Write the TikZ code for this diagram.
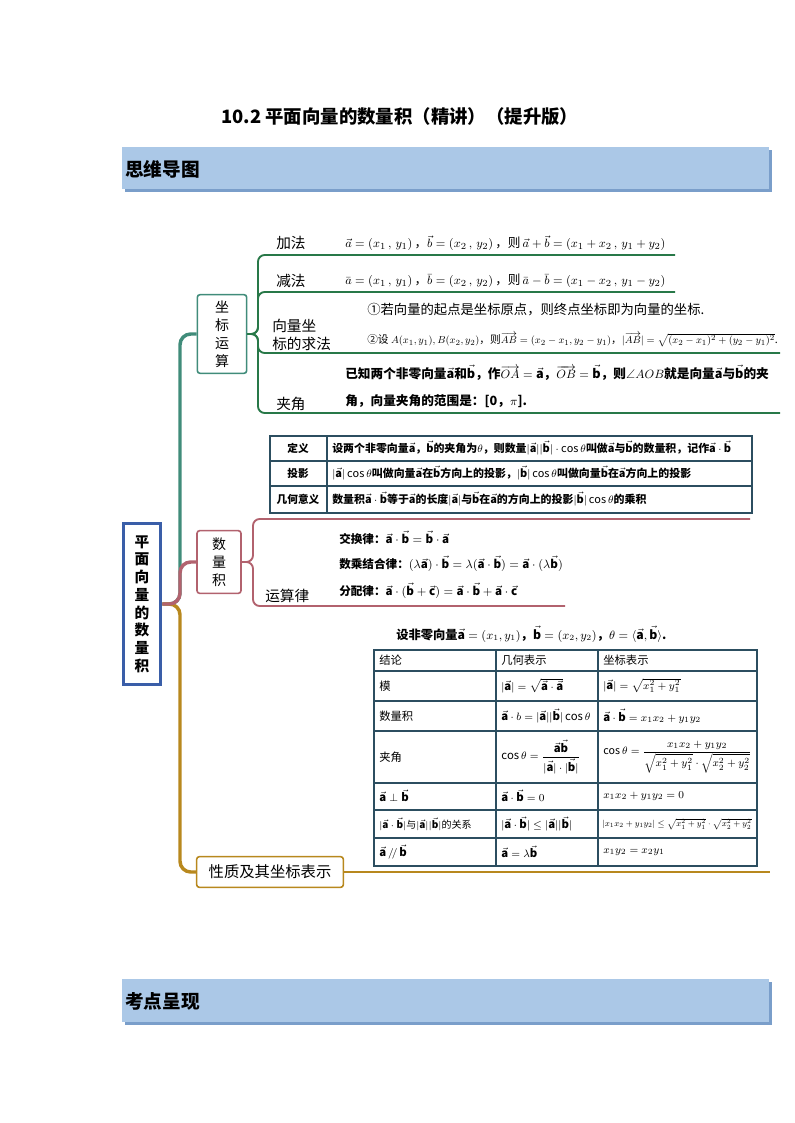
\documentclass[tikz,border=0pt]{standalone}
\usepackage{amsmath,amssymb}
\usepackage{graphicx}
\usepackage{fontspec}
\setmainfont{Noto Sans CJK SC}
\usetikzlibrary{positioning, calc}
\definecolor{bannerblue}{RGB}{171,200,231}
\definecolor{bannershade}{RGB}{122,158,202}
\definecolor{rootblue}{RGB}{58,94,168}
\definecolor{coordteal}{RGB}{64,140,122}
\definecolor{coordgreen}{RGB}{40,120,72}
\definecolor{dotpink}{RGB}{178,98,110}
\definecolor{propgold}{RGB}{184,136,30}
\definecolor{tableline}{RGB}{44,78,96}
\newcommand{\va}{\vec{\mathbf{a}}}
\newcommand{\vb}{\vec{\mathbf{b}}}
\newcommand{\vc}{\vec{\mathbf{c}}}

\begin{document}
\begin{tikzpicture}[x=0.75pt, y=-0.75pt,
    root/.style={rectangle, draw=rootblue, line width=2.4pt, fill=white, align=center, minimum width=28pt, minimum height=121pt, inner sep=2pt, font=\fontsize{11}{13.3}\selectfont\bfseries},
    topic/.style={rectangle, draw, rounded corners=2pt, line width=1.2pt, fill=white, align=center, inner sep=2pt, font=\fontsize{10.5}{13.5}\selectfont},
    bannertext/.style={anchor=west, inner sep=0pt, font=\fontsize{14}{16}\selectfont\bfseries},
    leaf/.style={anchor=west, align=left, inner sep=0pt, font=\fontsize{11}{13}\selectfont},
    formula/.style={anchor=west, inner sep=0pt, font=\fontsize{9.5}{11}\selectfont},
    note/.style={anchor=west, align=left, inner sep=0pt, font=\fontsize{9.5}{20}\selectfont\bfseries},
    law/.style={anchor=west, inner sep=0pt, font=\fontsize{8.7}{10}\selectfont\bfseries},
    cellhead/.style={inner sep=0pt, font=\fontsize{8}{9}\selectfont\bfseries},
    cell/.style={anchor=west, inner sep=0pt, font=\fontsize{8.2}{9}\selectfont\bfseries},
    bigcell/.style={anchor=west, inner sep=0pt, font=\fontsize{8.5}{10}\selectfont},
    grid/.style={draw=tableline, line width=0.9pt},
    trunk/.style={line width=2.6pt, rounded corners=8pt},
    twig/.style={line width=1.4pt, rounded corners=5pt}
]
    \useasboundingbox (0,0) rectangle (794,1123);

    % Header
    \node[anchor=west, inner sep=0pt, font=\fontsize{13.8}{15}\selectfont\bfseries] (title) at (221,117) {10.2 平面向量的数量积（精讲）（提升版）};
    \fill[bannershade] (125,150) rectangle (772,192);
    \fill[bannerblue] (122,147) rectangle (769,189);
    \node[bannertext] (maphead) at (125,169) {思维导图};
    \fill[bannershade] (125,982) rectangle (772,1025);
    \fill[bannerblue] (122,979) rectangle (769,1022);
    \node[bannertext] (testhead) at (125,1001) {考点呈现};

    % Root and topics
    \node[root] (root) at (142,604) {平\\面\\向\\量\\的\\数\\量\\积};
    \node[topic, draw=coordteal, minimum width=37pt, minimum height=59pt] (coord) at (222,334) {坐\\标\\运\\算};
    \node[topic, draw=dotpink, minimum width=33pt, minimum height=47pt] (dot) at (219,562) {数\\量\\积};
    \node[topic, draw=propgold, minimum width=110pt, minimum height=23pt, font=\fontsize{11.5}{13}\selectfont] (prop) at (270,872) {性质及其坐标表示};

    % Trunk
    \coordinate (fork) at (180,604);
    \draw[trunk, coordteal] (root.east) -- (fork) |- (coord.west);
    \draw[trunk, propgold] (root.east) -- (fork) |- (prop.west);
    \draw[trunk, dotpink] (root.east) -- (fork) |- (dot.west);

    % Coordinate operations
    \coordinate (cfork) at (258,334);
    \coordinate (addE) at (675,255);
    \coordinate (subE) at (675,292);
    \coordinate (getE) at (780,353);
    \coordinate (angE) at (780,413);
    \foreach \e in {addE,subE,getE,angE}
        \draw[twig, coordgreen] (coord.east) -- (cfork) |- (\e);

    \node[leaf] (add) at (276,243) {加法};
    \node[leaf] (sub) at (276,281) {减法};
    \node[leaf] (get) at (272,335) {向量坐\\标的求法};
    \node[leaf] (ang) at (276,404) {夹角};

    \node[formula] (addF) at (345,243) {$\vec a=(x_1\,,\,y_1)$\,，$\vec b=(x_2\,,\,y_2)$\,，则\,$\vec a+\vec b=(x_1+x_2\,,\,y_1+y_2)$};
    \node[formula] (subF) at (345,281) {$\bar a=(x_1\,,\,y_1)$\,，$\bar b=(x_2\,,\,y_2)$\,，则\,$\bar a-\bar b=(x_1-x_2\,,\,y_1-y_2)$};
    \node[formula, font=\fontsize{10}{11}\selectfont] (getA) at (367,310) {①若向量的起点是坐标原点，则终点坐标即为向量的坐标.};
    \node[formula] (getB) at (367,340) {\resizebox{308pt}{!}{②设 $A(x_1,y_1),B(x_2,y_2)$，则$\overrightarrow{AB}=(x_2-x_1,y_2-y_1)$，$|\overrightarrow{AB}|=\sqrt{(x_2-x_1)^2+(y_2-y_1)^2}$.}};
    \node[note] (angF) at (345,386) {已知两个非零向量$\va$和$\vb$，作$\overrightarrow{OA}=\va$，$\overrightarrow{OB}=\vb$，则$\angle AOB$就是向量$\va$与$\vb$的夹\\角，向量夹角的范围是：[0，$\pi$].};

    % Definition table
    \draw[grid] (270,436) rectangle (752,513);
    \draw[grid] (327,436) -- (327,513);
    \foreach \y in {461,486} \draw[grid] (270,\y) -- (752,\y);
    \node[cellhead] (defH) at (298,448) {定义};
    \node[cellhead] (projH) at (298,473) {投影};
    \node[cellhead] (geoH) at (298,499) {几何意义};
    \node[cell] (defC) at (332,448) {设两个非零向量$\va$，$\vb$的夹角为$\theta$，则数量$|\va||\vb|\cdot\cos\theta$叫做$\va$与$\vb$的数量积，记作$\va\cdot\vb$};
    \node[cell] (projC) at (332,473) {$|\va|\cos\theta$叫做向量$\va$在$\vb$方向上的投影，$|\vb|\cos\theta$叫做向量$\vb$在$\va$方向上的投影};
    \node[cell] (geoC) at (332,499) {数量积$\va\cdot\vb$等于$\va$的长度$|\va|$与$\vb$在$\va$的方向上的投影$|\vb|\cos\theta$的乘积};

    % Dot product
    \coordinate (dfork) at (253,562);
    \coordinate (tabE) at (750,519);
    \coordinate (lawE) at (565,606);
    \draw[twig, dotpink] (dot.east) -- (dfork) |- (tabE);
    \draw[twig, dotpink] (dot.east) -- (dfork) |- (lawE);
    \node[leaf] (laws) at (265,596) {运算律};
    \node[law] (comm) at (339,538) {交换律：$\va\cdot\vb=\vb\cdot\va$};
    \node[law] (assoc) at (339,564) {数乘结合律：$(\lambda\va)\cdot\vb=\lambda(\va\cdot\vb)=\va\cdot(\lambda\vb)$};
    \node[law] (distr) at (339,591) {分配律：$\va\cdot(\vb+\vc)=\va\cdot\vb+\va\cdot\vc$};

    % Properties and coordinates
    \coordinate (propE) at (770,872);
    \draw[twig, propgold, line width=1.6pt] (prop.east) -- (propE);
    \node[law, font=\fontsize{9.2}{10}\selectfont\bfseries] (given) at (396,634) {设非零向量$\va=(x_1,y_1)$，$\vb=(x_2,y_2)$，$\theta=\langle\va,\vb\rangle$.};

    \draw[grid] (374,650) rectangle (757,866);
    \foreach \x in {496,598} \draw[grid] (\x,650) -- (\x,866);
    \foreach \y in {671,701,731,783,810,838} \draw[grid] (374,\y) -- (757,\y);

    \node[bigcell] (h1) at (379,660) {结论};
    \node[bigcell] (h2) at (501,660) {几何表示};
    \node[bigcell] (h3) at (603,660) {坐标表示};
    \node[bigcell] (r1a) at (379,686) {模};
    \node[bigcell] (r1b) at (501,686) {$|\va|=\sqrt{\va\cdot\va}$};
    \node[bigcell] (r1c) at (603,686) {$|\va|=\sqrt{x_1^2+y_1^2}$};
    \node[bigcell] (r2a) at (379,716) {数量积};
    \node[bigcell] (r2b) at (501,716) {$\va\cdot b=|\va||\vb|\cos\theta$};
    \node[bigcell] (r2c) at (603,716) {$\va\cdot\vb=x_1x_2+y_1y_2$};
    \node[bigcell] (r3a) at (379,757) {夹角};
    \node[bigcell] (r3b) at (501,757) {$\cos\theta=\dfrac{\va\vb}{|\va|\cdot|\vb|}$};
    \node[bigcell, font=\fontsize{8}{9}\selectfont] (r3c) at (603,757) {$\cos\theta=\dfrac{x_1x_2+y_1y_2}{\sqrt{x_1^2+y_1^2}\cdot\sqrt{x_2^2+y_2^2}}$};
    \node[bigcell] (r4a) at (379,796) {$\va\perp\vb$};
    \node[bigcell] (r4b) at (501,796) {$\va\cdot\vb=0$};
    \node[bigcell] (r4c) at (603,796) {$x_1x_2+y_1y_2=0$};
    \node[bigcell, font=\fontsize{7.5}{9}\selectfont] (r5a) at (379,824) {$|\va\cdot\vb|$与$|\va||\vb|$的关系};
    \node[bigcell] (r5b) at (501,824) {$|\va\cdot\vb|\le|\va||\vb|$};
    \node[bigcell] (r5c) at (602,824) {\resizebox{112pt}{!}{$|x_1x_2+y_1y_2|\le\sqrt{x_1^2+y_1^2}\cdot\sqrt{x_2^2+y_2^2}$}};
    \node[bigcell] (r6a) at (379,852) {$\va\,/\!/\,\vb$};
    \node[bigcell] (r6b) at (501,852) {$\va=\lambda\vb$};
    \node[bigcell] (r6c) at (603,852) {$x_1y_2=x_2y_1$};
\end{tikzpicture}
\end{document}
